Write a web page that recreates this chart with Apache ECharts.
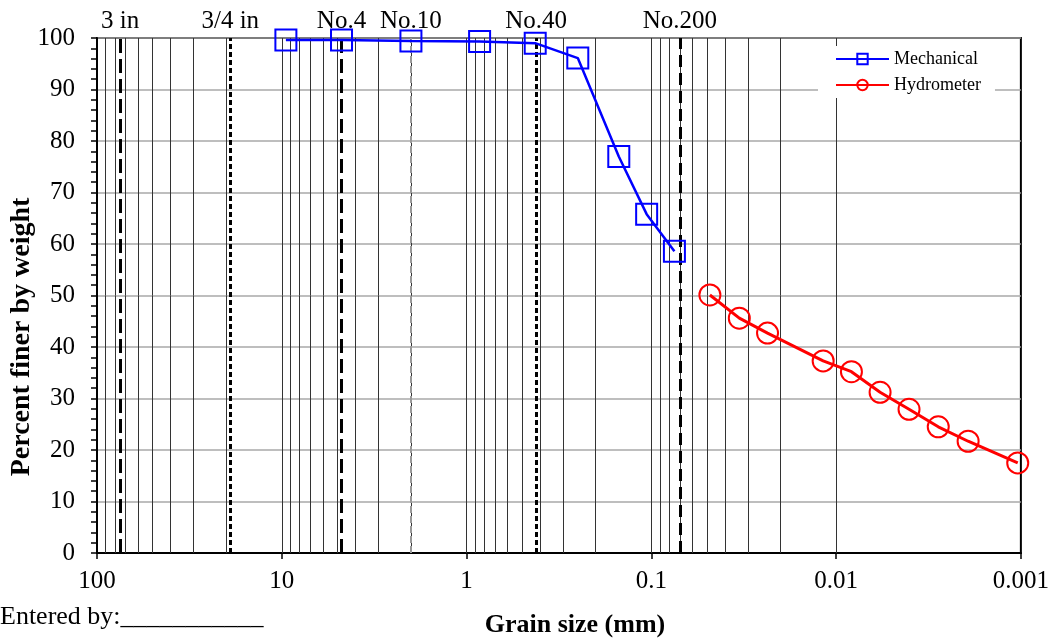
<!DOCTYPE html>
<html>
<head>
<meta charset="utf-8">
<script src="https://cdn.jsdelivr.net/npm/echarts@6/dist/echarts.min.js"></script>
<style>
  html, body { margin: 0; padding: 0; background: #fff; }
  #chart { width: 1052px; height: 638px; }
</style>
</head>
<body>
<div id="chart"></div>
<script>
// Sieve (mechanical) analysis: grain size (mm) and percent finer by weight
const mechSize  = [9.5, 4.75, 2.0, 0.85, 0.425, 0.25, 0.15, 0.106, 0.075];
const mechFiner = [99.6, 99.6, 99.4, 99.3, 99.0, 96.1, 77.0, 65.8, 58.6];

// Hydrometer analysis: grain size (mm) and percent finer by weight
const hydroSize  = [0.0482, 0.0334, 0.0235, 0.01175, 0.00826, 0.00578, 0.00403, 0.0028, 0.00193, 0.00104];
const hydroFiner = [50.1, 45.6, 42.7, 37.3, 35.2, 31.2, 27.9, 24.5, 21.7, 17.5];

// Standard sieve openings (mm) marked with dashed lines
const sieveNames = ['3 in', '3/4 in', 'No.4', 'No.10', 'No.40', 'No.200'];
const sieveSizes = [75, 19, 4.75, 2, 0.425, 0.075];

// Axis ticks
const xTickValues = [100, 10, 1, 0.1, 0.01, 0.001];
const xTickLabels = ['100', '10', '1', '0.1', '0.01', '0.001'];
const yTickLabels = ['0', '10', '20', '30', '40', '50', '60', '70', '80', '90', '100'];

const SERIF = '"Liberation Serif", "Times New Roman", serif';

// Line style of each sieve marker line
const sieveStyles = [
  { color: '#000', width: 3, type: [14, 6] },
  { color: '#000', width: 3, type: [5, 3] },
  { color: '#000', width: 3, type: [14, 6] },
  { color: '#9a9a9a', width: 2, type: [7, 3] },
  { color: '#000', width: 3, type: [5, 3] },
  { color: '#000', width: 3, type: [12, 6] }
];

// Log-cycle grid: 1..9 within every decade (outer edges are the frame)
const logGrid = [];
for (let d = 0; d < xTickValues.length - 1; d++) {
  const low = xTickValues[d + 1];
  for (let m = 1; m <= 9; m++) {
    if (m === 1 && d === xTickValues.length - 2) continue;
    logGrid.push(+(low * m).toPrecision(6));
  }
}

const chart = echarts.init(document.getElementById('chart'));

chart.setOption({
  animation: false,
  backgroundColor: '#fff',
  textStyle: { fontFamily: SERIF },
  grid: {
    left: 97, right: 30, top: 38, bottom: 85,
    show: true, borderColor: '#000', borderWidth: 2,
    backgroundColor: 'transparent'
  },
  legend: {
    data: ['Mechanical', 'Hydrometer'],
    orient: 'vertical',
    left: 818, top: 46,
    padding: [4, 14, 4, 17],
    backgroundColor: '#fff',
    itemWidth: 53, itemHeight: 13, itemGap: 8,
    textStyle: { fontFamily: SERIF, fontSize: 18, color: '#000' }
  },
  xAxis: {
    type: 'log', logBase: 10,
    min: 0.001, max: 100,
    inverse: true,
    splitNumber: 5,
    axisLine: { show: true, lineStyle: { color: '#000', width: 2 } },
    axisTick: { show: true, inside: false, length: 6, lineStyle: { color: '#000', width: 1.5 } },
    axisLabel: {
      color: '#000', fontFamily: SERIF, fontSize: 25, margin: 16,
      formatter: function (v) {
        const i = xTickValues.findIndex(t => Math.abs(Math.log10(t) - Math.log10(v)) < 1e-6);
        return i >= 0 ? xTickLabels[i] : '';
      }
    },
    splitLine: { show: false }
  },
  yAxis: {
    type: 'value',
    min: 0, max: 100, interval: 10,
    axisLine: { show: true, lineStyle: { color: '#000', width: 2 } },
    axisTick: { show: true, inside: false, length: 6, lineStyle: { color: '#000', width: 1.5 } },
    minorTick: { show: true, splitNumber: 5, length: 6, lineStyle: { color: '#000', width: 1.5 } },
    axisLabel: {
      color: '#000', fontFamily: SERIF, fontSize: 25, margin: 22,
      formatter: v => yTickLabels[Math.round(v / 10)]
    },
    splitLine: { show: true, lineStyle: { color: '#a8a8a8', width: 1.5 } }
  },
  graphic: [
    {
      type: 'text', x: 22, y: 337, rotation: Math.PI / 2,
      style: {
        text: 'Percent finer by weight', fill: '#000',
        font: 'bold 28px ' + SERIF, textAlign: 'center', textVerticalAlign: 'middle'
      }
    },
    {
      type: 'text', x: 575, y: 625,
      style: {
        text: 'Grain size (mm)', fill: '#000',
        font: 'bold 26px ' + SERIF, textAlign: 'center', textVerticalAlign: 'middle'
      }
    },
    {
      type: 'text', x: 0, y: 617,
      style: {
        text: 'Entered by:___________', fill: '#000',
        font: '26px ' + SERIF, textAlign: 'left', textVerticalAlign: 'middle'
      }
    }
  ],
  series: [
    {
      // log-cycle grid lines
      name: 'grid',
      type: 'line',
      data: [],
      silent: true,
      markLine: {
        z: 1, silent: true, symbol: ['none', 'none'],
        label: { show: false },
        lineStyle: { color: '#333', width: 1, type: 'solid' },
        data: logGrid.map(v => ({ xAxis: v }))
      }
    },
    {
      // standard sieve lines with their names above the plot
      name: 'sieves',
      type: 'line',
      data: [],
      silent: true,
      markLine: {
        z: 1, silent: true, symbol: ['none', 'none'],
        data: sieveSizes.map((s, i) => ({
          xAxis: s,
          name: sieveNames[i],
          lineStyle: sieveStyles[i],
          label: {
            show: true, position: 'end', distance: 4,
            formatter: sieveNames[i],
            color: '#000', fontFamily: SERIF, fontSize: 25
          }
        }))
      }
    },
    {
      name: 'Mechanical',
      type: 'line',
      z: 3,
      data: mechSize.map((s, i) => [s, mechFiner[i]]),
      symbol: 'rect', symbolSize: 21,
      lineStyle: { color: '#0000ff', width: 2.5 },
      itemStyle: { color: 'rgba(0,0,0,0)', borderColor: '#0000ff', borderWidth: 2 }
    },
    {
      name: 'Hydrometer',
      type: 'line',
      z: 3,
      data: hydroSize.map((s, i) => [s, hydroFiner[i]]),
      symbol: 'circle', symbolSize: 21,
      lineStyle: { color: '#ff0000', width: 3 },
      itemStyle: { color: 'rgba(0,0,0,0)', borderColor: '#ff0000', borderWidth: 2 }
    }
  ]
});
</script>
</body>
</html>
